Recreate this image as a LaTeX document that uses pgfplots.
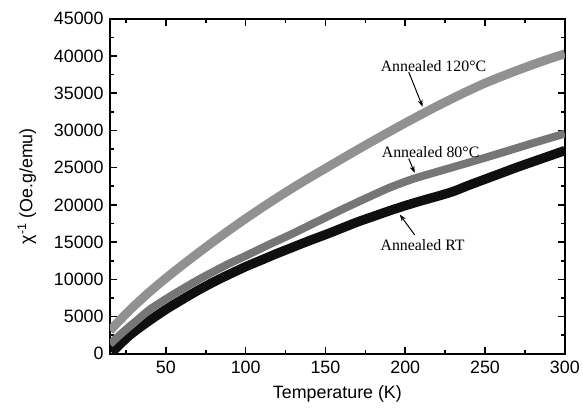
\documentclass[border=0pt]{standalone}
\usepackage{pgfplots}
\pgfplotsset{compat=1.18}
\usepackage{pgfplotstable}
\usepackage{fontspec}
\setmainfont{Liberation Sans}
\newfontfamily\seriffont{Liberation Serif}
\usetikzlibrary{arrows.meta}
\definecolor{cA}{RGB}{145,145,145}
\definecolor{cB}{RGB}{118,118,118}
\definecolor{cC}{RGB}{15,15,15}

\pgfplotstableread{
T V
15 3100
20 4250
25 5350
30 6400
40 8350
50 10150
60 11850
70 13500
80 15100
90 16650
100 18150
110 19600
120 21000
130 22350
140 23650
150 24900
160 26160
170 27400
180 28620
190 29820
200 31000
210 32150
220 33270
230 34350
240 35380
250 36360
260 37230
270 38060
280 38850
290 39600
300 40300
}\tA

\pgfplotstableread{
T V
15 1300
20 2300
25 3250
30 4150
40 5950
50 7350
60 8650
70 9900
80 11050
90 12150
100 13150
112 14400
120 15200
130 16200
140 17250
150 18300
160 19350
175 20850
190 22300
205 23500
220 24450
240 25700
261 27050
280 28300
300 29580
}\tB

\pgfplotstableread{
T V
16 200
20 1000
25 2050
30 2950
40 4500
50 5950
60 7250
70 8500
80 9650
90 10700
100 11700
110 12600
120 13500
130 14350
140 15200
150 16000
160 16850
170 17700
180 18450
190 19200
200 19900
210 20550
220 21150
230 21800
240 22650
250 23450
260 24250
270 25050
280 25800
290 26550
300 27300
}\tC

\begin{document}
\begin{tikzpicture}
\begin{axis}[
  width=459pt, height=338pt, scale only axis,
  xmin=15, xmax=300, ymin=0, ymax=45000,
  xtick={50,100,...,300}, minor xtick={25,75,...,275},
  ytick={0,5000,...,45000}, minor ytick={2500,7500,...,42500},
  tick align=inside,
  major tick length=7pt, minor tick length=4pt,
  every tick/.style={line width=1.6pt, black},
  axis line style={line width=1.8pt},
  scaled y ticks=false,
  /pgf/number format/assume math mode=true,
  /pgf/number format/1000 sep={},
  tick label style={font=\fontsize{18}{20}\selectfont},
  xticklabel style={yshift=-4pt},
  yticklabel style={xshift=-3pt},
  xlabel={Temperature (K)},
  ylabel={χ\textsuperscript{-1} (Oe.g/emu)},
  label style={font=\fontsize{18}{20}\selectfont},
  x label style={at={(axis description cs:0.5,-0.121)}, anchor=center},
  y label style={at={(axis description cs:-0.183,0.5)}, anchor=center},
  clip=true,
]
\addplot[cC, line width=9.5pt, smooth, tension=0.4] table[x=T,y=V] {\tC};
\addplot[cB, line width=8pt, smooth, tension=0.4] table[x=T,y=V] {\tB};
\addplot[cA, line width=9pt, smooth, tension=0.4] table[x=T,y=V] {\tA};

\node[font=\seriffont\fontsize{16}{18}\selectfont] at (axis cs:217.7,38650) {Annealed 120°C};
\node[font=\seriffont\fontsize{16}{18}\selectfont] at (axis cs:215.9,27040) {Annealed 80°C};
\node[font=\seriffont\fontsize{16}{18}\selectfont] at (axis cs:210.9,14630) {Annealed RT};
\draw[-{Stealth[length=7pt,width=5pt]}, line width=1pt] (axis cs:202.2,37850) -- (axis cs:210.9,33200);
\draw[-{Stealth[length=7pt,width=5pt]}, line width=1pt] (axis cs:202.2,26240) -- (axis cs:205.9,24300);
\draw[-{Stealth[length=7pt,width=5pt]}, line width=1pt] (axis cs:205.9,15970) -- (axis cs:196.6,18700);
\end{axis}
\path (current axis.south west) ++(-111pt,-55pt) coordinate (bb1);
\path (current axis.north east) ++(13pt,19pt) coordinate (bb2);
\path (bb1) rectangle (bb2);
\end{tikzpicture}
\end{document}
